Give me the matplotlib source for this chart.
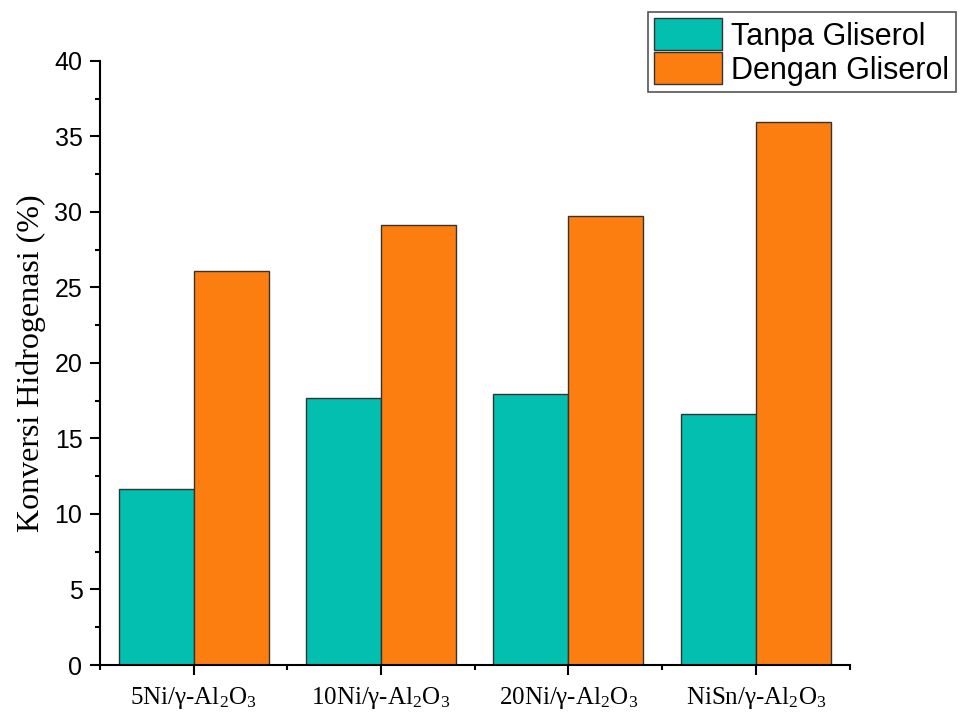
import matplotlib

matplotlib.use("Agg")
import matplotlib.pyplot as plt
import numpy as np
from matplotlib.ticker import MultipleLocator, FixedLocator

plt.rcParams["mathtext.fontset"] = "custom"
plt.rcParams["mathtext.rm"] = "Liberation Serif"
plt.rcParams["mathtext.it"] = "Liberation Serif:italic"

categories = ["5Ni/γ-Al$_2$O$_3$", "10Ni/γ-Al$_2$O$_3$", "20Ni/γ-Al$_2$O$_3$", "NiSn/γ-Al$_2$O$_3$"]
tanpa = [11.65, 17.7, 17.97, 16.6]
dengan = [26.1, 29.13, 29.75, 35.98]

TEAL = "#02BFB0"
ORANGE = "#FC7E10"


def main():
    fig = plt.figure(figsize=(9.6, 7.13), dpi=100)
    ax = fig.add_axes([0.104, 0.0673, 0.781, 0.8474])

    x = np.arange(len(categories))
    w = 0.4
    ax.bar(x - w / 2, tanpa, w, color=TEAL, edgecolor="#333333", linewidth=1.0, label="Tanpa Gliserol")
    ax.bar(x + w / 2, dengan, w, color=ORANGE, edgecolor="#333333", linewidth=1.0, label="Dengan Gliserol")

    ax.set_xlim(-0.5, len(categories) - 0.5)
    ax.set_ylim(0, 40)
    ax.set_xticks(x)
    ax.set_xticklabels(categories, family="Liberation Serif", fontsize=18)
    ax.xaxis.set_minor_locator(FixedLocator(np.arange(-0.5, len(categories), 1.0)))
    ax.yaxis.set_major_locator(MultipleLocator(5))
    ax.yaxis.set_minor_locator(MultipleLocator(2.5))
    for lab in ax.get_yticklabels():
        lab.set_family("Liberation Sans")
        lab.set_fontsize(18)

    ax.tick_params(which="major", direction="out", length=7.5, width=1.5)
    ax.tick_params(which="minor", direction="out", length=3.5, width=1.5)
    ax.tick_params(axis="y", which="major", pad=5)
    ax.tick_params(axis="x", which="major", pad=7)
    for s in ("top", "right"):
        ax.spines[s].set_visible(False)
    for s in ("left", "bottom"):
        ax.spines[s].set_linewidth(1.5)

    ax.set_ylabel("Konversi Hidrogenasi (%)", family="Liberation Serif", fontsize=23, labelpad=6)

    leg = fig.legend(loc="upper left", bbox_to_anchor=(648 / 960, 1 - 12 / 713),
                     prop={"family": "Liberation Sans", "size": 22},
                     handlelength=2.23, handleheight=1.25, labelspacing=0.02,
                     handletextpad=0.3, borderpad=0.2, borderaxespad=0,
                     fancybox=False, framealpha=1)
    leg.get_frame().set_edgecolor("#555555")
    leg.get_frame().set_linewidth(1.2)

    fig.savefig("out.png", dpi=100)


if __name__ == "__main__":
    main()
